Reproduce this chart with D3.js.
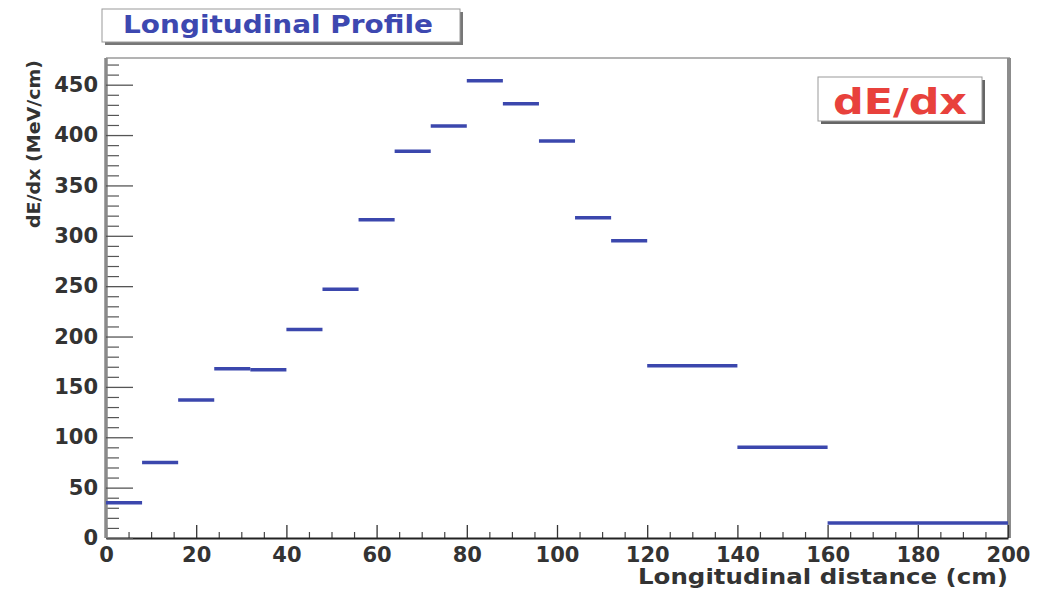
<!DOCTYPE html>
<html>
<head>
<meta charset="utf-8">
<script src="https://cdn.jsdelivr.net/npm/d3@7"></script>
<style>
  html, body { margin: 0; padding: 0; background: #fff; }
  svg { display: block; }
  text { font-family: "DejaVu Sans", sans-serif; font-weight: bold; }
</style>
</head>
<body>
<div id="chart"></div>
<script>
// ---- data ----
const binEdges = [0, 8, 16, 24, 32, 40, 48, 56, 64, 72, 80, 88, 96, 104, 112, 120, 140, 160, 200];
const binValues = [35, 75, 137, 168, 167, 207, 247, 316, 384, 409, 454, 431, 394, 318, 295, 171, 90, 15];
const xTickValues = [0, 20, 40, 60, 80, 100, 120, 140, 160, 180, 200];
const yTickValues = [0, 50, 100, 150, 200, 250, 300, 350, 400, 450];
const titleText = "Longitudinal Profile";
const legendText = "dE/dx";
const xAxisTitle = "Longitudinal distance (cm)";
const yAxisTitle = "dE/dx (MeV/cm)";

const W = 1049, H = 589;
const frame = { left: 106, right: 1008, top: 58, bottom: 538 };

const svg = d3.select("#chart").append("svg").attr("width", W).attr("height", H);

const x = d3.scaleLinear().domain([0, 200]).range([frame.left, frame.right]);
const y = d3.scaleLinear().domain([0, 476.5]).range([frame.bottom, frame.top]);

// frame top & right border
svg.append("line").attr("x1", frame.left).attr("x2", frame.right + 2)
  .attr("y1", frame.top).attr("y2", frame.top)
  .attr("stroke", "#9a9a9a").attr("stroke-width", 1.5);
svg.append("line").attr("x1", frame.right + 1).attr("x2", frame.right + 1)
  .attr("y1", frame.top).attr("y2", frame.bottom)
  .attr("stroke", "#8c8c8c").attr("stroke-width", 4);

// minor ticks
const xMinor = d3.range(0, 201, 5).filter(v => v % 20 !== 0);
const yMinor = d3.range(0, 471, 10).filter(v => v % 50 !== 0);

svg.append("g").attr("transform", `translate(0,${frame.bottom})`)
  .call(d3.axisBottom(x).tickValues(xMinor).tickSize(-6).tickFormat(""))
  .call(g => g.select(".domain").remove())
  .selectAll("line").attr("stroke", "#444").attr("stroke-width", 1.2);

svg.append("g").attr("transform", `translate(${frame.left},0)`)
  .call(d3.axisLeft(y).tickValues(yMinor).tickSize(-13).tickFormat(""))
  .call(g => g.select(".domain").remove())
  .selectAll("line").attr("stroke", "#555").attr("stroke-width", 1.2);

// major axes
const xAxis = svg.append("g").attr("transform", `translate(0,${frame.bottom})`)
  .call(d3.axisBottom(x).tickValues(xTickValues).tickSizeInner(-13).tickSizeOuter(0).tickPadding(9)
    .tickFormat(d3.format("d")));
xAxis.select(".domain").attr("stroke", "#222").attr("stroke-width", 2.2);
xAxis.selectAll(".tick line").attr("stroke", "#333").attr("stroke-width", 1.3);
xAxis.selectAll("text").attr("font-size", 21).attr("fill", "#333")
  .attr("font-family", "DejaVu Sans").attr("font-weight", "bold");

const yAxis = svg.append("g").attr("transform", `translate(${frame.left},0)`)
  .call(d3.axisLeft(y).tickValues(yTickValues).tickSizeInner(-27).tickSizeOuter(0).tickPadding(8)
    .tickFormat(d3.format("d")));
yAxis.select(".domain").attr("stroke", "#8a8a8a").attr("stroke-width", 3.5)
  .attr("d", `M0,${frame.top}V${frame.bottom}`);
yAxis.selectAll(".tick line").attr("stroke", "#555").attr("stroke-width", 1.3);
yAxis.selectAll("text").attr("font-size", 21).attr("fill", "#333")
  .attr("font-family", "DejaVu Sans").attr("font-weight", "bold");

// histogram bins (horizontal levels)
const bins = binValues.map((v, i) => ({ x0: binEdges[i], x1: binEdges[i + 1], v }));
svg.append("g").selectAll("line").data(bins).join("line")
  .attr("x1", d => x(d.x0)).attr("x2", d => x(d.x1))
  .attr("y1", d => y(d.v)).attr("y2", d => y(d.v))
  .attr("stroke", "#3b47ad").attr("stroke-width", 3.5);

// title box
const tb = { x: 102, y: 9, w: 358, h: 33 };
svg.append("rect").attr("x", tb.x + 3).attr("y", tb.y + 3).attr("width", tb.w).attr("height", tb.h).attr("fill", "#777");
svg.append("rect").attr("x", tb.x).attr("y", tb.y).attr("width", tb.w).attr("height", tb.h)
  .attr("fill", "#fff").attr("stroke", "#999").attr("stroke-width", 1);
svg.append("text").attr("x", 123).attr("y", 33).attr("font-size", 25).attr("fill", "#3d48b0")
  .attr("textLength", 310).attr("lengthAdjust", "spacingAndGlyphs").text(titleText);

// legend box
const lb = { x: 818, y: 77, w: 164, h: 44 };
svg.append("rect").attr("x", lb.x + 3).attr("y", lb.y + 3).attr("width", lb.w).attr("height", lb.h).attr("fill", "#666");
svg.append("rect").attr("x", lb.x).attr("y", lb.y).attr("width", lb.w).attr("height", lb.h)
  .attr("fill", "#fff").attr("stroke", "#999").attr("stroke-width", 1);
svg.append("text").attr("x", 833).attr("y", 114).attr("font-size", 36).attr("fill", "#e8413c")
  .attr("textLength", 134).attr("lengthAdjust", "spacingAndGlyphs").text(legendText);

// axis titles
svg.append("text").attr("x", frame.right).attr("y", 584).attr("text-anchor", "end")
  .attr("font-size", 21).attr("fill", "#333")
  .attr("textLength", 370).attr("lengthAdjust", "spacingAndGlyphs").text(xAxisTitle);

svg.append("text").attr("transform", "translate(40,60) rotate(-90)").attr("text-anchor", "end")
  .attr("font-size", 18).attr("fill", "#333")
  .attr("textLength", 168).attr("lengthAdjust", "spacingAndGlyphs").text(yAxisTitle);
</script>
</body>
</html>
